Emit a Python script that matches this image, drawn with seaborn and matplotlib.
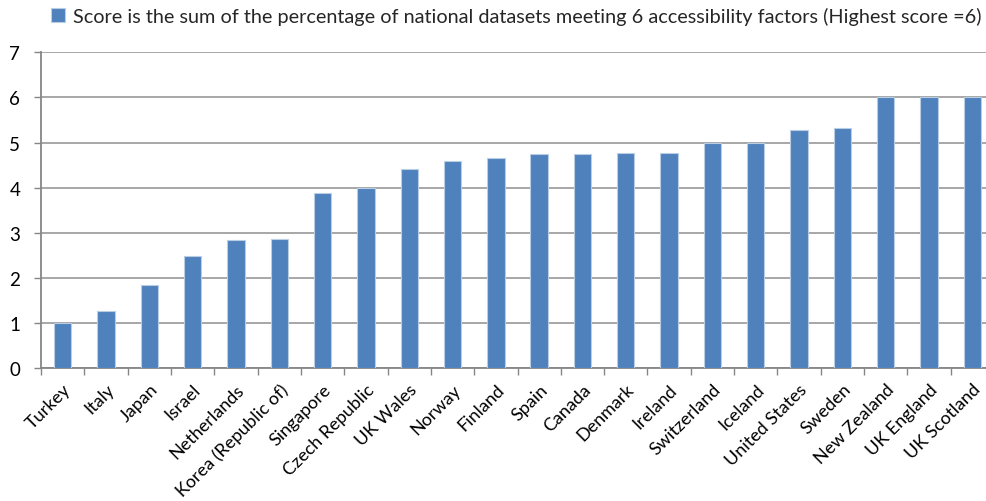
import matplotlib
matplotlib.use("Agg")
import matplotlib.pyplot as plt
import seaborn as sns
import pandas as pd
import numpy as np

countries = ["Turkey", "Italy", "Japan", "Israel", "Netherlands",
             "Korea (Republic of)", "Singapore", "Czech Republic", "UK Wales",
             "Norway", "Finland", "Spain", "Canada", "Denmark", "Ireland",
             "Switzerland", "Iceland", "United States", "Sweden",
             "New Zealand", "UK England", "UK Scotland"]
scores = [1.0, 1.27, 1.84, 2.49, 2.84, 2.86, 3.89, 4.0, 4.41, 4.59, 4.65,
          4.74, 4.74, 4.77, 4.78, 5.0, 5.0, 5.28, 5.32, 6.0, 6.0, 6.0]
y_ticks = [0, 1, 2, 3, 4, 5, 6, 7]
series_label = ("Score is the sum of the percentage of national datasets "
                "meeting 6 accessibility factors (Highest score =6)")

df = pd.DataFrame({"country": countries, "score": scores})

sns.set_theme(style="white")
plt.rcParams["font.family"] = ["Lato", "DejaVu Sans"]

fig = plt.figure(figsize=(9.86, 5.02), dpi=100)
ax = fig.add_axes([41 / 986, 1 - 369.3 / 502, (994 - 41) / 986, (369.3 - 53.3) / 502])

sns.barplot(data=df, x="country", y="score", color="#4F81BD", saturation=1,
            width=0.4, edgecolor="#B9CDE5", linewidth=0.8, label=series_label,
            ax=ax, zorder=3)

ax.set_ylim(0, 7)
ax.set_xlim(-0.5, len(countries) - 0.5)
ax.set_yticks(y_ticks)
ax.set_yticklabels([str(t) for t in y_ticks], fontsize=13.5, color="#000000")
ax.yaxis.grid(True, color="#A0A0A0", linewidth=1.3, zorder=0)
ax.set_axisbelow(True)

# category labels at bar centres, tick marks on category boundaries
ax.set_xticks(np.arange(len(countries)))
ax.set_xticklabels(countries, rotation=45, ha="right", rotation_mode="anchor",
                   fontsize=13, color="#000000")
ax.tick_params(axis="x", which="major", length=0, pad=9)
ax.set_xticks(np.arange(len(countries) + 1) - 0.5, minor=True)
ax.tick_params(axis="x", which="minor", bottom=True, length=5, width=1,
               color="#868686", direction="out")
ax.tick_params(axis="y", left=True, length=5, width=1, color="#868686",
               direction="out", pad=10)

ax.set_xlabel("")
ax.set_ylabel("")
for side in ["top", "right"]:
    ax.spines[side].set_visible(False)
for side in ["left", "bottom"]:
    ax.spines[side].set_color("#868686")
    ax.spines[side].set_linewidth(1.3)

ax.legend(loc="center", bbox_to_anchor=(516 / 986, 1 - 17 / 502),
          bbox_transform=fig.transFigure, frameon=False, fontsize=14.3,
          handlelength=0.7, handleheight=0.7, handletextpad=0.4,
          borderpad=0)

fig.savefig("out.png", dpi=100)
